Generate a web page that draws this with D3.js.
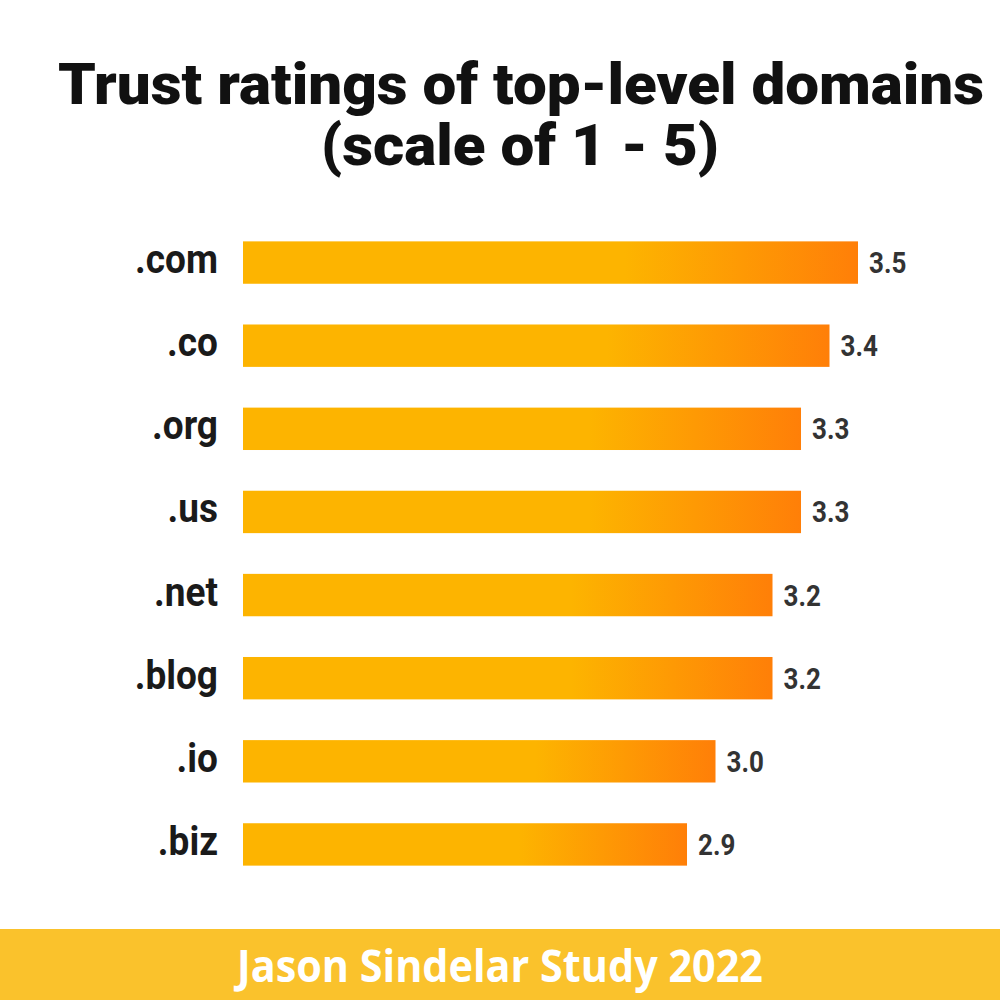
<!DOCTYPE html>
<html><head><meta charset="utf-8">
<script src="https://cdn.jsdelivr.net/npm/d3@7"></script>
<style>html,body{margin:0;padding:0;background:#fff;}svg{display:block;}</style>
</head><body>
<script>
const domains = [".com", ".co", ".org", ".us", ".net", ".blog", ".io", ".biz"];
const ratings = [3.5, 3.4, 3.3, 3.3, 3.2, 3.2, 3.0, 2.9];
const titleLines = ["Trust ratings of top-level domains", "(scale of 1 - 5)"];
const footerText = "Jason Sindelar Study 2022";

const W = 1000, H = 1000;
const svg = d3.select("body").append("svg").attr("width", W).attr("height", H);
svg.append("rect").attr("width", W).attr("height", H).attr("fill", "#fff");

const defs = svg.append("defs");
const grad = defs.append("linearGradient").attr("id", "barGrad")
  .attr("x1", "0").attr("x2", "1").attr("y1", "0").attr("y2", "0");
grad.append("stop").attr("offset", "0").attr("stop-color", "#FDB400");
grad.append("stop").attr("offset", "0.62").attr("stop-color", "#FDB400");
grad.append("stop").attr("offset", "1").attr("stop-color", "#FF7F08");

// title
svg.append("text").attr("x", 521).attr("y", 104).attr("text-anchor", "middle")
  .attr("font-family", "Roboto").attr("font-weight", 900).attr("font-size", 57)
  .attr("fill", "#111").attr("textLength", 926).attr("lengthAdjust", "spacingAndGlyphs")
  .text(titleLines[0]);
svg.append("text").attr("x", 520).attr("y", 165).attr("text-anchor", "middle")
  .attr("font-family", "Roboto").attr("font-weight", 900).attr("font-size", 57)
  .attr("fill", "#111").attr("textLength", 398).attr("lengthAdjust", "spacingAndGlyphs")
  .text(titleLines[1]);

const x = d3.scaleLinear().domain([1.342, 3.5]).range([243, 858]);
const y = d3.scaleBand().domain(domains).range([221, 886]).paddingInner(0.49).paddingOuter(0.245);

const g = svg.append("g");
g.selectAll("rect.bar").data(domains).join("rect").attr("class", "bar")
  .attr("x", x.range()[0])
  .attr("y", d => y(d))
  .attr("width", (d, i) => x(ratings[i]) - x.range()[0])
  .attr("height", y.bandwidth())
  .attr("fill", "url(#barGrad)");

g.selectAll("text.cat").data(domains).join("text").attr("class", "cat")
  .attr("transform", d => `translate(218,${y(d) + y.bandwidth() / 2 + 10.5}) scale(1,1.08)`)
  .attr("text-anchor", "end")
  .attr("font-family", "Roboto").attr("font-weight", 700).attr("font-size", 37)
  .attr("fill", "#1a1a1a").text(d => d);

g.selectAll("text.val").data(domains).join("text").attr("class", "val")
  .attr("transform", (d, i) => `translate(${x(ratings[i]) + 11},${y(d) + y.bandwidth() / 2 + 10.5}) scale(1,1.12)`)
  .attr("font-family", "Roboto").attr("font-weight", 700).attr("font-size", 26)
  .attr("fill", "#333").text((d, i) => ratings[i].toFixed(1));

// footer
svg.append("rect").attr("x", 0).attr("y", 929).attr("width", W).attr("height", 71).attr("fill", "#FAC22C");
svg.append("text").attr("x", 500).attr("y", 982).attr("text-anchor", "middle")
  .attr("font-family", "Open Sans").attr("font-weight", 700).attr("font-size", 44)
  .attr("fill", "#fff").attr("textLength", 526).attr("lengthAdjust", "spacingAndGlyphs")
  .text(footerText);
</script>
</body></html>
